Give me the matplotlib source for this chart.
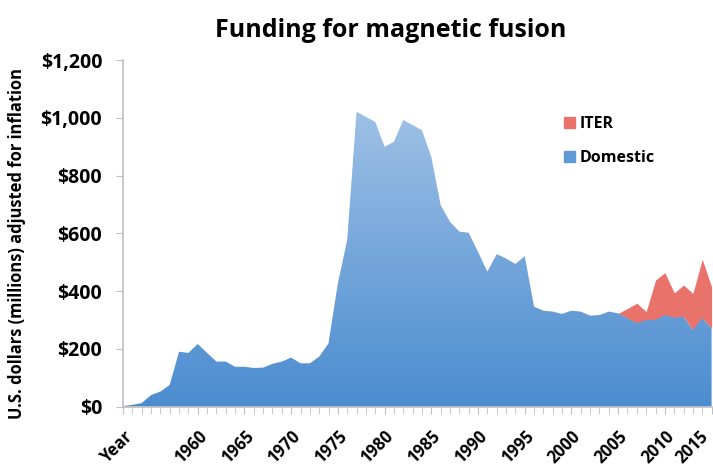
import matplotlib
matplotlib.use('Agg')
import matplotlib.pyplot as plt
import matplotlib.transforms as mtransforms
import numpy as np
from matplotlib.colors import LinearSegmentedColormap
from matplotlib.patches import Patch
from matplotlib.ticker import FuncFormatter, MultipleLocator

plt.rcParams['font.family'] = ['Open Sans', 'DejaVu Sans']
plt.rcParams['font.weight'] = 'bold'

# years (first category is labelled "Year" on the axis)
years = list(range(1952, 2016))

# domestic funding, millions of USD (inflation adjusted)
domestic = [2, 6, 12, 40, 52, 75, 190, 186, 217, 186,
            156, 156, 138, 138, 134, 135, 148, 156, 170, 150,
            150, 173, 219, 427, 577, 1021, 1003, 986, 900, 917,
            992, 975, 957, 865, 698, 640, 606, 602, 536, 467,
            528, 513, 494, 521, 346, 332, 329, 321, 332, 329,
            315, 317, 329, 323, 306, 289, 300, 300, 317, 308,
            311, 265, 306, 271]

# ITER contribution, millions of USD
iter_part = [0] * 53 + [0, 34, 69, 29, 138, 147, 86, 110, 127, 204, 144]

tick_years = [1952, 1960, 1965, 1970, 1975, 1980, 1985, 1990, 1995, 2000, 2005, 2010, 2015]
tick_labels = ['Year', '1960', '1965', '1970', '1975', '1980', '1985', '1990',
               '1995', '2000', '2005', '2010', '2015']

total = [d + i for d, i in zip(domestic, iter_part)]

fig = plt.figure(figsize=(7.13, 4.69), dpi=100)
ax = fig.add_axes([0.1725, 0.133, 0.8255, 0.739])

# ITER on top of domestic
ax.fill_between(years, domestic, total, color='#e9736b', linewidth=0)

# domestic with a vertical gradient, clipped to its area
dom_fill = ax.fill_between(years, 0, domestic, color='none', linewidth=0)
blues = LinearSegmentedColormap.from_list('dom', ['#4b8cd0', '#acc9e9'])
grad = np.linspace(0, 1, 256).reshape(-1, 1)
img = ax.imshow(grad, extent=[years[0], years[-1], 0, 1200], origin='lower',
                aspect='auto', cmap=blues, zorder=2)
img.set_clip_path(dom_fill.get_paths()[0], transform=ax.transData)

ax.set_xlim(years[0], years[-1])
ax.set_ylim(0, 1200)

ax.yaxis.set_major_locator(MultipleLocator(200))
ax.yaxis.set_major_formatter(FuncFormatter(lambda v, p: '${:,.0f}'.format(v)))
ax.set_xticks(tick_years)
ax.set_xticklabels(tick_labels, rotation=45, ha='right', rotation_mode='anchor')
ax.xaxis.set_minor_locator(MultipleLocator(1))

ax.tick_params(axis='y', length=5, color='#bfbfbf', labelsize=14, pad=10)
ax.tick_params(axis='x', which='both', length=5, color='#bfbfbf', labelsize=12, pad=10)

# nudge the last year label so it stays inside the picture
last = ax.get_xticklabels()[-1]
last.set_transform(last.get_transform() +
                   mtransforms.ScaledTranslation(-12 / 100, 0, fig.dpi_scale_trans))

for s in ['top', 'right']:
    ax.spines[s].set_visible(False)
for s in ['left', 'bottom']:
    ax.spines[s].set_color('#bfbfbf')
    ax.spines[s].set_linewidth(1.2)

ax.set_ylabel('U.S. dollars (millions) adjusted for inflation', fontsize=11.9,
              fontweight='bold')
ax.yaxis.set_label_coords(-0.165, 0.47)
fig.text(0.548, 0.935, 'Funding for magnetic fusion', fontsize=18, fontweight='bold',
         ha='center', va='center')

handles = [Patch(color='#e9736b', label='ITER'), Patch(color='#5f9ad6', label='Domestic')]
ax.legend(handles=handles, loc='upper left', bbox_to_anchor=(0.725, 0.88), frameon=False,
          handlelength=0.7, handleheight=0.7, handletextpad=0.3, labelspacing=1.15,
          prop={'weight': 'bold', 'size': 11.5})

fig.savefig('out.png', dpi=100)
